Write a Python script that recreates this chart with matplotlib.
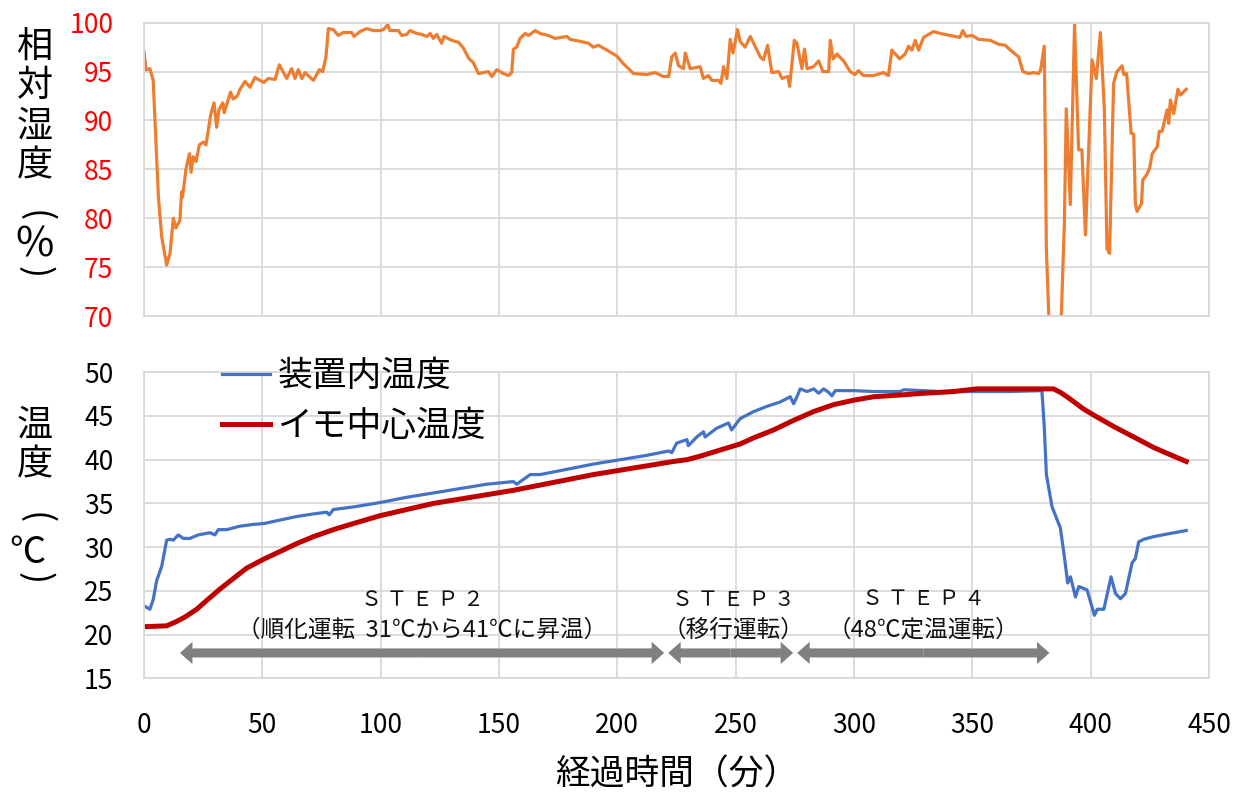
import matplotlib
matplotlib.use('Agg')
import matplotlib.pyplot as plt
from matplotlib.lines import Line2D

plt.rcParams['font.family'] = ['Noto Sans CJK JP', 'DejaVu Sans']

# relative humidity (%), minutes
rh_t = [0, 0.9, 2.5, 3.9, 6.1, 7.5, 9.6, 11, 12.4, 13.5, 15.2, 15.9, 16.3, 17.8, 19.2, 19.9,
        20.8, 22, 23.4, 25.1, 26.2, 27.2, 28.2, 29.6, 30.7, 31.7, 33.3, 33.9, 35.2, 36.6, 37.7,
        39.4, 40.6, 42.7, 44.8, 46.9, 49, 50.7, 52.5, 55.4, 57.2, 60.3, 62.4, 63.8, 65.2, 66.7,
        68.1, 71.6, 74.1, 75.5, 76.9, 77.9, 80, 82.1, 84.2, 87.8, 88.8, 91.3, 94.1, 96.9, 99.8,
        101.2, 103, 103.9, 107.5, 108.9, 111, 112.4, 115.3, 117.4, 119.5, 120.9, 122.3, 123.7,
        125.8, 126.8, 130, 132.9, 135, 137.1, 139.2, 141.3, 145.5, 147, 149.1, 151.9, 154,
        155.4, 156.1, 157.5, 158.9, 161.1, 162.5, 165.3, 167.4, 170.9, 173.7, 178.7, 180.1,
        184.3, 187.8, 189.9, 192, 195.6, 199.8, 202.6, 205.2, 206.8, 212.5, 216, 219.5, 221.7,
        223, 224.5, 225.9, 228, 228.7, 230.8, 235, 236.4, 238.5, 240, 242.8, 243.8, 244.9,
        246.3, 247.7, 248.9, 250.8, 251.9, 254, 256.2, 260.4, 261.8, 263.5, 265.3, 268.2,
        269.6, 272.1, 272.8, 273.8, 274.8, 275.9, 278, 279.1, 280.2, 282.9, 285.1, 286.9,
        289.3, 290, 291.2, 292.8, 295.6, 298.4, 300.5, 301.9, 304, 308.3, 312.5, 314.6, 316,
        319.3, 321.6, 323.1, 324.5, 325.9, 327.3, 329.4, 331.5, 333.6, 336.5, 340.7, 344.7,
        346, 347.4, 349.9, 352.7, 357.6, 361.1, 363.9, 366.1, 369.6, 371.4, 373.8, 375.9, 378,
        378.9, 380.4, 381.3, 383.5, 386.5, 388.9, 389.7, 391.4, 393.2, 394.9, 396.3, 397.8,
        400.6, 402.4, 404.1, 405.8, 406.9, 408, 409.7, 411.1, 413.3, 414, 415.2, 417.1, 418.2,
        418.9, 419.6, 421.5, 422, 423.8, 425, 426, 428.1, 429, 430.2, 432.3, 433, 433.7, 435.1,
        436.9, 437.9, 440.4]
rh_v = [97.1, 95.2, 95.3, 94.1, 82.2, 78.1, 75.2, 76.4, 80.0, 79.0, 79.8, 82.7, 82.2, 85.1,
        86.6, 84.7, 86.3, 85.8, 87.5, 87.8, 87.5, 89.0, 90.6, 91.8, 89.3, 91.1, 91.8, 90.8,
        91.8, 92.9, 92.2, 92.5, 93.2, 94.0, 93.4, 94.4, 94.1, 93.9, 94.3, 94.2, 95.7, 94.3,
        95.3, 94.3, 95.2, 94.3, 94.9, 94.1, 95.2, 95.0, 96.5, 99.4, 99.3, 98.7, 99.0, 99.0,
        98.6, 99.1, 99.4, 99.2, 99.2, 99.3, 99.8, 99.2, 99.2, 98.7, 98.8, 99.2, 98.9, 98.8,
        98.6, 98.9, 98.4, 98.8, 97.9, 98.6, 98.2, 98.0, 97.4, 96.4, 95.9, 94.8, 95.0, 94.5,
        95.2, 94.8, 94.6, 94.9, 97.3, 97.5, 98.4, 98.9, 98.7, 99.2, 98.9, 98.7, 98.4, 98.6,
        98.3, 98.1, 97.9, 97.5, 97.7, 97.2, 96.6, 95.8, 95.2, 94.8, 94.7, 94.9, 94.5, 94.5,
        96.5, 96.9, 95.6, 95.3, 96.9, 95.3, 95.5, 94.3, 94.6, 94.1, 94.1, 93.8, 95.5, 94.3,
        98.3, 96.9, 99.3, 98.1, 97.5, 98.6, 96.5, 96.2, 97.7, 94.9, 95.0, 94.3, 94.5, 93.5,
        95.8, 98.2, 97.9, 95.3, 97.3, 95.3, 95.5, 96.1, 95.0, 95.0, 98.2, 96.3, 96.8, 96.1,
        95.0, 94.7, 95.1, 94.6, 94.6, 94.9, 94.6, 97.2, 96.3, 96.8, 97.6, 97.2, 98.2, 97.2,
        98.5, 98.8, 99.1, 98.9, 98.7, 98.5, 99.2, 98.6, 98.7, 98.3, 98.2, 97.8, 97.7, 97.2,
        96.5, 95.0, 94.8, 94.9, 94.8, 95.2, 97.6, 76.8, 62.0, 62.0, 79.5, 91.2, 81.4, 99.8,
        87.0, 87.0, 78.3, 96.2, 94.3, 99.0, 91.1, 76.9, 76.4, 93.8, 95.0, 95.6, 94.7, 94.8,
        88.7, 88.6, 81.5, 80.7, 81.5, 83.9, 84.5, 85.2, 86.6, 87.3, 88.9, 88.9, 91.1, 89.7,
        92.1, 90.7, 93.2, 92.6, 93.2]

# temperature inside the device (°C)
dev_t = [0, 2.5, 3.9, 5.4, 7.5, 9.6, 11, 12.4, 14.5, 16.6, 19.4, 22.9, 27.9, 30, 31.4, 34.9,
         40.6, 46.2, 50.7, 57.5, 64.5, 71.6, 77.2, 78.3, 80, 88.5, 99.8, 111, 122.3, 133.6,
         144.9, 156.1, 157.5, 163.2, 167.4, 178.7, 189.9, 201.2, 212.5, 221.7, 223, 225.1,
         229.4, 230, 233.6, 236.4, 237.1, 242, 247, 248.3, 251.9, 257.6, 263.2, 268.8, 273.1,
         274.5, 275.9, 277.3, 280.2, 283, 285.1, 287.2, 289.3, 290.7, 292.1, 299.8, 308.3,
         319.5, 321, 329.4, 336.5, 366, 379.4, 380.4, 381.3, 383.7, 387.2, 388.9, 390.3, 391.5,
         393.6, 395, 398.5, 401.6, 402.8, 405.6, 408.6, 410.5, 412.6, 414.7, 417.5, 418.9,
         420.3, 422.4, 426.6, 432.3, 440.4]
dev_v = [23.3, 22.9, 24.0, 26.2, 27.8, 30.8, 30.9, 30.8, 31.4, 31.0, 31.0, 31.4, 31.65, 31.4,
         32.0, 32.0, 32.4, 32.6, 32.7, 33.1, 33.5, 33.8, 34.0, 33.7, 34.3, 34.6, 35.1, 35.7,
         36.2, 36.7, 37.2, 37.5, 37.2, 38.3, 38.3, 38.9, 39.5, 40.0, 40.5, 41.0, 40.8, 41.9,
         42.3, 41.6, 42.6, 43.2, 42.6, 43.6, 44.2, 43.4, 44.7, 45.5, 46.1, 46.6, 47.2, 46.4,
         47.2, 48.1, 47.8, 48.1, 47.6, 48.1, 47.7, 47.3, 47.9, 47.9, 47.8, 47.8, 48.0, 47.9,
         47.8, 47.8, 47.9, 43.8, 38.3, 34.6, 32.2, 28.9, 25.9, 26.6, 24.3, 25.5, 25.1, 22.2,
         22.9, 22.9, 26.6, 24.7, 24.1, 24.7, 28.2, 28.7, 30.6, 30.9, 31.2, 31.5, 31.9]

# sweet potato core temperature (°C)
core_t = [0, 9.6, 13.8, 17.3, 22.3, 26.5, 32.1, 37.7, 43.4, 50.4, 57.5, 64.5, 71.6, 80, 88.5,
          99.8, 111, 122.3, 133.6, 144.9, 156.1, 167.4, 178.7, 189.9, 201.2, 212.5, 223.8,
          229.4, 235, 243.4, 251.9, 257.6, 266, 274.5, 282.9, 291.4, 299.8, 308.3, 319.5,
          329.4, 336.5, 342.1, 351.9, 384.3, 387.2, 390, 397, 401.3, 409.7, 418.2, 426.6,
          435.1, 440.4]
core_v = [20.9, 21.0, 21.5, 22.0, 22.9, 23.9, 25.2, 26.4, 27.6, 28.6, 29.5, 30.4, 31.2, 32.0,
          32.7, 33.6, 34.3, 35.0, 35.5, 36.0, 36.5, 37.1, 37.7, 38.3, 38.8, 39.3, 39.8, 40.0,
          40.4, 41.1, 41.8, 42.5, 43.4, 44.5, 45.5, 46.3, 46.8, 47.2, 47.4, 47.6, 47.7, 47.8,
          48.1, 48.1, 47.7, 47.2, 45.8, 45.1, 43.8, 42.6, 41.4, 40.4, 39.8]

# process steps: (start, end, title, description, text centre)
steps = [(15.2, 219.8, 'Ｓ Ｔ Ｅ Ｐ ２', '（順化運転  31℃から41℃に昇温）', 117.5),
         (221.5, 274.3, 'Ｓ Ｔ Ｅ Ｐ ３', '（移行運転）', 249.0),
         (276.0, 382.6, 'Ｓ Ｔ Ｅ Ｐ ４', '（48℃定温運転）', 329.3)]

W, H = 1241, 798
fig = plt.figure(figsize=(W / 100, H / 100), dpi=100)
ax1 = fig.add_axes([0.1160, 0.6040, 0.8582, 0.3675])
ax2 = fig.add_axes([0.1160, 0.1500, 0.8582, 0.3835])

grid_c = '#d9d9d9'
for ax in (ax1, ax2):
    ax.set_xlim(0, 450)
    ax.set_xticks(range(0, 451, 50))
    ax.grid(True, color=grid_c, lw=1.3)
    ax.set_axisbelow(True)
    ax.tick_params(length=0, labelsize=19)
    for s in ax.spines.values():
        s.set_color(grid_c)
        s.set_linewidth(1.3)

ax1.plot(rh_t, rh_v, color='#ED7D31', lw=2.3)
ax1.set_ylim(70, 100)
ax1.set_yticks(range(70, 101, 5))
ax1.tick_params(axis='y', colors='#FF0000', pad=22)
ax1.tick_params(axis='x', labelbottom=False)

ax2.plot(dev_t, dev_v, color='#4472C4', lw=2.3)
ax2.plot(core_t, core_v, color='#C00000', lw=3.6)
ax2.set_ylim(15, 50)
ax2.set_yticks(range(15, 51, 5))
ax2.tick_params(axis='y', pad=22)
ax2.tick_params(axis='x', pad=24)
ax2.set_xlabel('経過時間（分）', fontsize=25, labelpad=14)

handles = [Line2D([], [], color='#4472C4', lw=2.3), Line2D([], [], color='#C00000', lw=3.6)]
ax2.legend(handles, ['装置内温度', 'イモ中心温度'], loc='upper left',
           bbox_to_anchor=(0.073, 1.043), frameon=False, fontsize=25, handlelength=1.4,
           handletextpad=0.2, labelspacing=0.44, borderpad=0, borderaxespad=0)

for x0, x1, title, desc, xc in steps:
    xm = (x0 + x1) / 2
    for end in (x0, x1):
        ax2.annotate('', xy=(end, 17.9), xytext=(xm, 17.9),
                     arrowprops=dict(arrowstyle='simple,head_length=0.9,head_width=1.6,tail_width=0.65',
                                     color='#808080', lw=0, mutation_scale=10,
                                     shrinkA=0, shrinkB=0))
    ax2.text(xc, 24.0, title, ha='center', va='center', fontsize=15, color='#111111')
    ax2.text(xc, 20.5, desc, ha='center', va='center', fontsize=17, color='#111111')

# stacked vertical axis titles
def ylab(items):
    for ch, y, rot, size, xp in items:
        fig.text(xp / W, 1 - y / H, ch, rotation=rot, ha='center', va='center', fontsize=size)

ylab([('相', 48, 0, 26, 35), ('対', 86, 0, 26, 35), ('湿', 127, 0, 26, 35),
      ('度', 166, 0, 26, 35), ('(', 216, -90, 26, 35), ('%', 245, 0, 30, 35),
      (')', 272, -90, 26, 35)])
ylab([('温', 426, 0, 26, 35), ('度', 465, 0, 26, 35), ('(', 518, -90, 26, 35),
      ('℃', 553, 0, 26, 27), (')', 578, -90, 26, 35)])

fig.savefig('out.png', dpi=100)
